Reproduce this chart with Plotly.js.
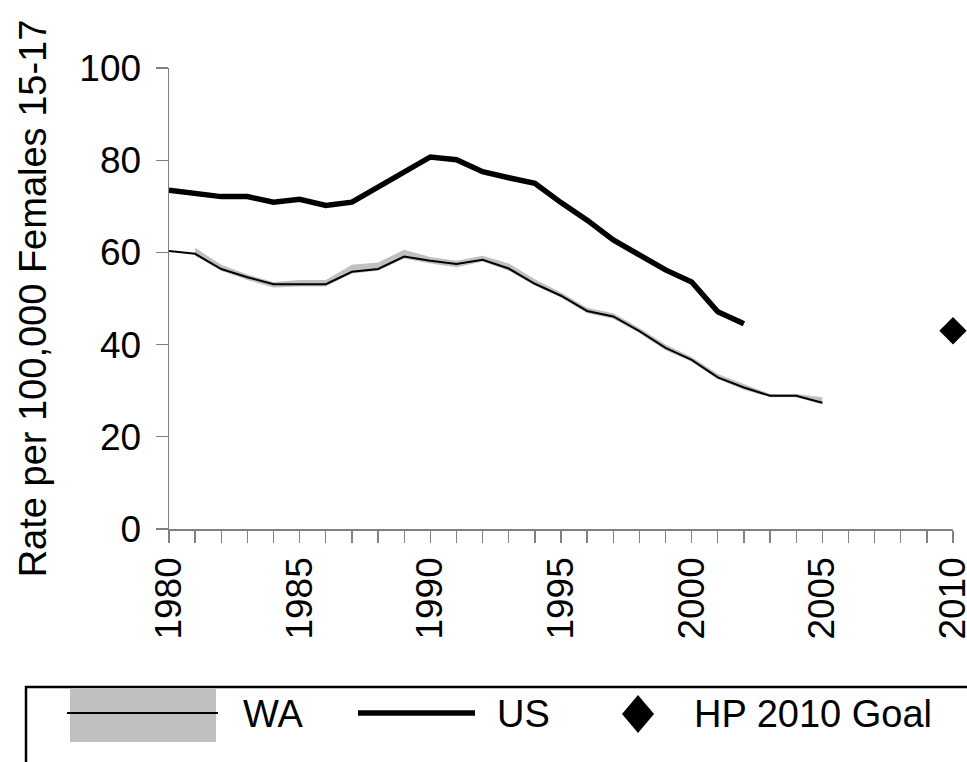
<!DOCTYPE html>
<html>
<head>
<meta charset="utf-8">
<script src="https://cdn.plot.ly/plotly-3.0.1.min.js"></script>
<style>html,body{margin:0;padding:0;background:#fff;}#chart{width:967px;height:762px;}</style>
</head>
<body>
<div id="chart"></div>
<script>
// ---- data ----
var waYears = [1980,1981,1982,1983,1984,1985,1986,1987,1988,1989,1990,1991,1992,1993,1994,1995,1996,1997,1998,1999,2000,2001,2002,2003,2004,2005];
var waRate  = [60.3,59.7,56.4,54.6,53.1,53.1,53.1,55.8,56.4,59.1,58.2,57.5,58.4,56.5,53.2,50.6,47.3,46.1,42.9,39.3,36.7,32.9,30.7,28.9,28.9,27.4];
var bandYears = [1981,1982,1983,1984,1985,1986,1987,1988,1989,1990,1991,1992,1993,1994,1995,1996,1997,1998,1999,2000,2001,2002,2003,2004,2005];
var waUpper = [61.0,57.3,55.2,53.6,54.0,54.0,57.3,57.8,60.6,59.0,58.2,59.3,57.6,54.2,51.3,48.0,46.8,43.6,40.0,37.3,33.6,31.4,29.3,29.3,28.6];
var waLower = [59.3,56.0,54.0,52.4,52.6,52.6,55.4,56.0,58.7,57.6,56.8,58.0,56.0,52.8,50.2,46.8,45.6,42.5,38.8,36.3,32.5,30.2,28.6,28.6,27.0];
var usYears = [1980,1981,1982,1983,1984,1985,1986,1987,1988,1989,1990,1991,1992,1993,1994,1995,1996,1997,1998,1999,2000,2001,2002];
var usRate  = [73.5,72.8,72.1,72.1,70.9,71.5,70.2,70.9,74.2,77.5,80.7,80.1,77.5,76.2,75.0,70.8,67.0,62.7,59.5,56.2,53.6,47.1,44.5];
var goalYear = [2010];
var goalRate = [43];
var xTickVals = [];
var xTickText = [];
for (var y = 1980; y <= 2010; y++) { xTickVals.push(y); xTickText.push(y % 5 === 0 ? String(y) : ''); }
var yTickVals = [0,20,40,60,80,100];
var legendLabels = ['WA','US','HP 2010 Goal'];

var FONT = 'Liberation Sans, Arial, sans-serif';

var traces = [
  {x: bandYears, y: waLower, mode: 'lines', line: {width: 0, color: '#c0c0c0'}, hoverinfo: 'skip', showlegend: false},
  {x: bandYears, y: waUpper, mode: 'lines', fill: 'tonexty', fillcolor: '#c0c0c0', line: {width: 0, color: '#c0c0c0'}, hoverinfo: 'skip', showlegend: false},
  {x: waYears, y: waRate, mode: 'lines', line: {color: '#000', width: 2}, name: legendLabels[0], showlegend: false},
  {x: usYears, y: usRate, mode: 'lines', line: {color: '#000', width: 5.5}, name: legendLabels[1], showlegend: false},
  {x: goalYear, y: goalRate, mode: 'markers', marker: {symbol: 'diamond', size: 21, color: '#000'}, name: legendLabels[2], showlegend: false, cliponaxis: false}
];

// legend drawn in paper coordinates (plot area: x 169..953 px, y 68..529 px)
function px(p){ return (p - 169) / 784; }
function py(p){ return (529 - p) / 461; }
var dcx = 638, dcy = 714, dhw = 16, dhh = 19;
var shapes = [
  {type: 'rect', xref: 'paper', yref: 'paper', x0: px(26), x1: px(990), y0: py(687), y1: py(780), line: {color: '#000', width: 2.5}, fillcolor: 'rgba(0,0,0,0)'},
  {type: 'rect', xref: 'paper', yref: 'paper', x0: px(70), x1: px(216), y0: py(688), y1: py(742), line: {width: 0}, fillcolor: '#c0c0c0'},
  {type: 'line', xref: 'paper', yref: 'paper', x0: px(67), x1: px(218), y0: py(713), y1: py(713), line: {color: '#000', width: 2}},
  {type: 'line', xref: 'paper', yref: 'paper', x0: px(358), x1: px(475), y0: py(713), y1: py(713), line: {color: '#000', width: 5.5}},
  {type: 'path', xref: 'paper', yref: 'paper',
   path: 'M ' + px(dcx - dhw) + ',' + py(dcy) + ' L ' + px(dcx) + ',' + py(dcy - dhh) + ' L ' + px(dcx + dhw) + ',' + py(dcy) + ' L ' + px(dcx) + ',' + py(dcy + dhh) + ' Z',
   fillcolor: '#000', line: {width: 0}}
];
var annotations = [
  {xref: 'paper', yref: 'paper', x: px(241), y: py(714), text: legendLabels[0], showarrow: false, xanchor: 'left', yanchor: 'middle', font: {family: FONT, size: 38, color: '#000'}},
  {xref: 'paper', yref: 'paper', x: px(495), y: py(714), text: legendLabels[1], showarrow: false, xanchor: 'left', yanchor: 'middle', font: {family: FONT, size: 38, color: '#000'}},
  {xref: 'paper', yref: 'paper', x: px(692), y: py(714), text: legendLabels[2], showarrow: false, xanchor: 'left', yanchor: 'middle', font: {family: FONT, size: 38, color: '#000'}}
];

var layout = {
  width: 967, height: 762,
  margin: {l: 169, r: 14, t: 68, b: 233, pad: 0},
  paper_bgcolor: '#fff', plot_bgcolor: '#fff',
  font: {family: FONT, size: 37, color: '#000'},
  showlegend: false,
  xaxis: {
    range: [1980, 2010], tickmode: 'array', tickvals: xTickVals, ticktext: xTickText,
    tickangle: -90, ticks: 'outside', ticklen: 12, tickwidth: 1.3, tickcolor: '#808080',
    ticklabelstandoff: 0, ticklabeloverflow: 'allow',
    showline: true, linecolor: '#808080', linewidth: 1.5, showgrid: false, zeroline: false,
    tickfont: {family: FONT, size: 37, color: '#000'}
  },
  yaxis: {
    range: [0, 100], tickmode: 'array', tickvals: yTickVals,
    ticks: 'outside', ticklen: 12, tickwidth: 1.3, tickcolor: '#808080',
    ticklabelstandoff: 7,
    showline: true, linecolor: '#808080', linewidth: 1.5, showgrid: false, zeroline: false,
    tickfont: {family: FONT, size: 37, color: '#000'},
    title: {text: 'Rate per 100,000 Females 15-17', font: {family: FONT, size: 38, color: '#000'}, standoff: 21}
  },
  shapes: shapes,
  annotations: annotations
};

Plotly.newPlot('chart', traces, layout, {displayModeBar: false, staticPlot: true});
</script>
</body>
</html>
